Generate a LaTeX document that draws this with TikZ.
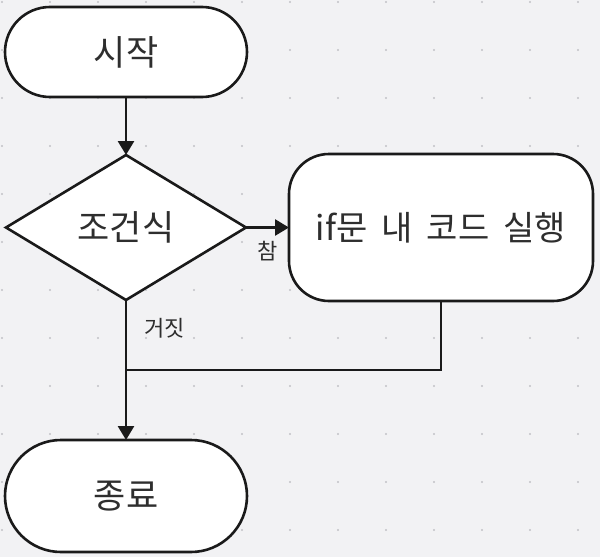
\documentclass[tikz,border=0pt]{standalone}
\usepackage{fontspec}
\setmainfont{Noto Sans CJK KR}
\usetikzlibrary{shapes.geometric,arrows.meta,positioning,calc}
\definecolor{canvas}{HTML}{F2F2F4}
\definecolor{griddot}{HTML}{C2C2C6}
\definecolor{ink}{HTML}{1A1A1A}
\definecolor{label}{HTML}{2E2E2E}

\begin{document}
\begin{tikzpicture}[x=1pt, y=-1pt,
    terminal/.style={draw=ink, line width=2.6pt, fill=white, minimum width=242pt, inner sep=0pt, outer sep=0pt, font=\fontsize{35}{40}\selectfont, text=label},
    decision/.style={diamond, draw=ink, line width=2.6pt, fill=white, minimum width=240pt, minimum height=145pt, inner sep=0pt, outer sep=0pt, font=\fontsize{35}{40}\selectfont, text=label},
    process/.style={draw=ink, line width=2.6pt, fill=white, minimum width=304pt, minimum height=147pt, rounded corners=40pt, inner sep=0pt, outer sep=0pt, font={\fontsize{34}{40}\selectfont\spaceskip=14pt}, text=label},
    flow/.style={draw=ink, line width=2.6pt, -{Triangle[width=16pt,length=14pt]}},
    link/.style={draw=ink, line width=2.6pt},
    branch/.style={font=\fontsize{22}{26}\selectfont, text=label, inner sep=0pt}]

    % canvas with dot grid
    \fill[canvas] (0,0) rectangle (600,557);
    \foreach \gx in {0,...,12}
        \foreach \gy in {0,...,11}
            \fill[griddot] (2+48*\gx, 2+48*\gy) circle (1.1pt);

    \node[terminal, minimum height=90pt, rounded corners=45pt] (start) at (126,52) {시작};
    \node[decision, below=58pt of start] (cond) {조건식};
    \node[process, right=43pt of cond] (body) {if문 내 코드 실행};
    \node[terminal, minimum height=112pt, rounded corners=56pt, below=140pt of cond] (finish) {종료};
    \coordinate (merge) at ($(cond.south)!0.5!(finish.north)$);

    \draw[flow] (start) -- (cond);
    \draw[flow] (cond) -- node[branch, below=12pt] {참} (body);
    \draw[flow] (cond) -- node[branch, pos=0.2, right=17pt] {거짓} (finish);
    \draw[link] (body) |- (merge);
\end{tikzpicture}
\end{document}
